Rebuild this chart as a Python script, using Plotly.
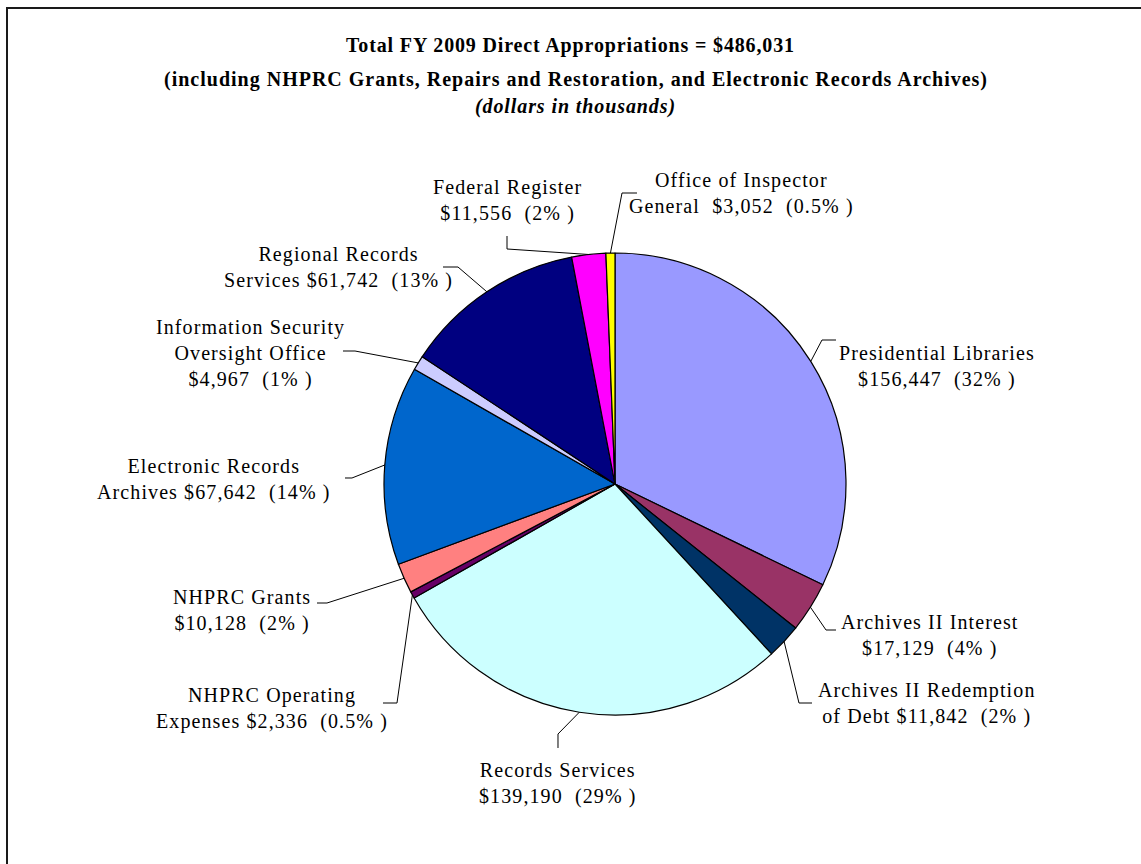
import plotly.graph_objects as go
import math

W, H = 1141, 864

# ---- data ----
categories = [
    "Presidential Libraries", "Archives II Interest", "Archives II Redemption of Debt",
    "Records Services", "NHPRC Operating Expenses", "NHPRC Grants",
    "Electronic Records Archives", "Information Security Oversight Office",
    "Regional Records Services", "Federal Register", "Office of Inspector General",
]
values = [156447, 17129, 11842, 139190, 2336, 10128, 67642, 4967, 61742, 11556, 3052]
pct_labels = ["32%", "4%", "2%", "29%", "0.5%", "2%", "14%", "1%", "13%", "2%", "0.5%"]
label_head = [
    "Presidential Libraries", "Archives II Interest", "Archives II Redemption<br>of Debt",
    "Records Services", "NHPRC Operating<br>Expenses", "NHPRC Grants",
    "Electronic Records<br>Archives", "Information Security<br>Oversight Office",
    "Regional Records<br>Services", "Federal Register", "Office of Inspector<br>General",
]
# whether the amount goes on a new line after the head text
amount_newline = [True, True, False, True, False, True, False, True, False, True, False]
colors = ["#9999FF", "#993366", "#003366", "#CCFFFF", "#660066", "#FF8080",
          "#0066CC", "#CCCCFF", "#000080", "#FF00FF", "#FFFF00"]

# ---- layout (pixels) ----
CX, CY, R = 615, 484, 231
label_pos = [(937, 366), (930, 635), (926, 703), (558, 783), (272, 708), (242, 610),
             (214, 479), (251, 353), (338, 267), (507, 200), (741, 194)]
leader_bends = [
    [(822, 340), (836, 340)],
    [(826, 630), (836, 630)],
    [(799, 703), (812, 703)],
    [(558, 734), (558, 748)],
    [(397, 703), (383, 703)],
    [(327, 603), (317, 603)],
    [(352, 478), (345, 478)],
    [(355, 351), (343, 351)],
    [(458, 267), (443, 267)],
    [(507, 249), (507, 236)],
    [(622, 193), (637, 193)],
]

FONT = "Liberation Serif, Times New Roman, serif"
NB = "\u00a0"

def px(x):
    return x / W

def py(y):
    return 1 - y / H

def spaced(t, ls):
    parts = t.split("<br>")
    return "<br>".join(f'<span style="letter-spacing:{ls}px">{p}</span>' for p in parts)

fig = go.Figure(go.Pie(
    labels=categories, values=values, sort=False, direction="clockwise", rotation=0,
    marker=dict(colors=colors, line=dict(color="black", width=1.2)),
    textinfo="none", hoverinfo="label+value+percent", showlegend=False,
    domain=dict(x=[px(CX - R), px(CX + R)], y=[py(CY + R), py(CY - R)]),
))

annotations = []
shapes = []
total = sum(values)
cum = 0
for i, v in enumerate(values):
    mid = (cum + v / 2) / total * 2 * math.pi
    cum += v
    ex, ey = CX + R * math.sin(mid), CY - R * math.cos(mid)
    pts = [(ex, ey)] + leader_bends[i]
    path = "M " + " L ".join(f"{px(x):.5f},{py(y):.5f}" for x, y in pts)
    shapes.append(dict(type="path", xref="paper", yref="paper", path=path,
                       line=dict(color="black", width=1)))
    amount = f"${v:,}{NB}{NB}({pct_labels[i]}{NB})"
    sep = "<br>" if amount_newline[i] else (NB + NB if i == 10 else NB)
    text = spaced(label_head[i] + sep + amount, 1.1)
    lx, ly = label_pos[i]
    annotations.append(dict(x=px(lx), y=py(ly), xref="paper", yref="paper", text=text,
                            showarrow=False, align="center", xanchor="center", yanchor="middle",
                            font=dict(family=FONT, size=20, color="black")))

title_lines = [
    ("<b>Total FY 2009 Direct Appropriations = $486,031</b>", 45, 570, 0.85),
    ("<b>(including NHPRC Grants, Repairs and Restoration, and Electronic Records Archives)</b>", 80, 576, 1.0),
    ("<b><i>(dollars in thousands)</i></b>", 106, 575, 0.9),
]
for t, y, x, ls in title_lines:
    annotations.append(dict(x=px(x), y=py(y), xref="paper", yref="paper",
                            text=f'<span style="letter-spacing:{ls}px">{t}</span>',
                            showarrow=False, xanchor="center", yanchor="middle",
                            font=dict(family=FONT, size=20, color="black")))

# chart frame (right and bottom edges fall outside the view)
shapes.append(dict(type="rect", xref="paper", yref="paper", x0=px(7), x1=px(1160),
                   y0=py(900), y1=py(8), line=dict(color="#1a1a1a", width=2)))

fig.update_layout(width=W, height=H, margin=dict(l=0, r=0, t=0, b=0),
                  paper_bgcolor="white", plot_bgcolor="white",
                  annotations=annotations, shapes=shapes)

fig.write_html("out.html")
